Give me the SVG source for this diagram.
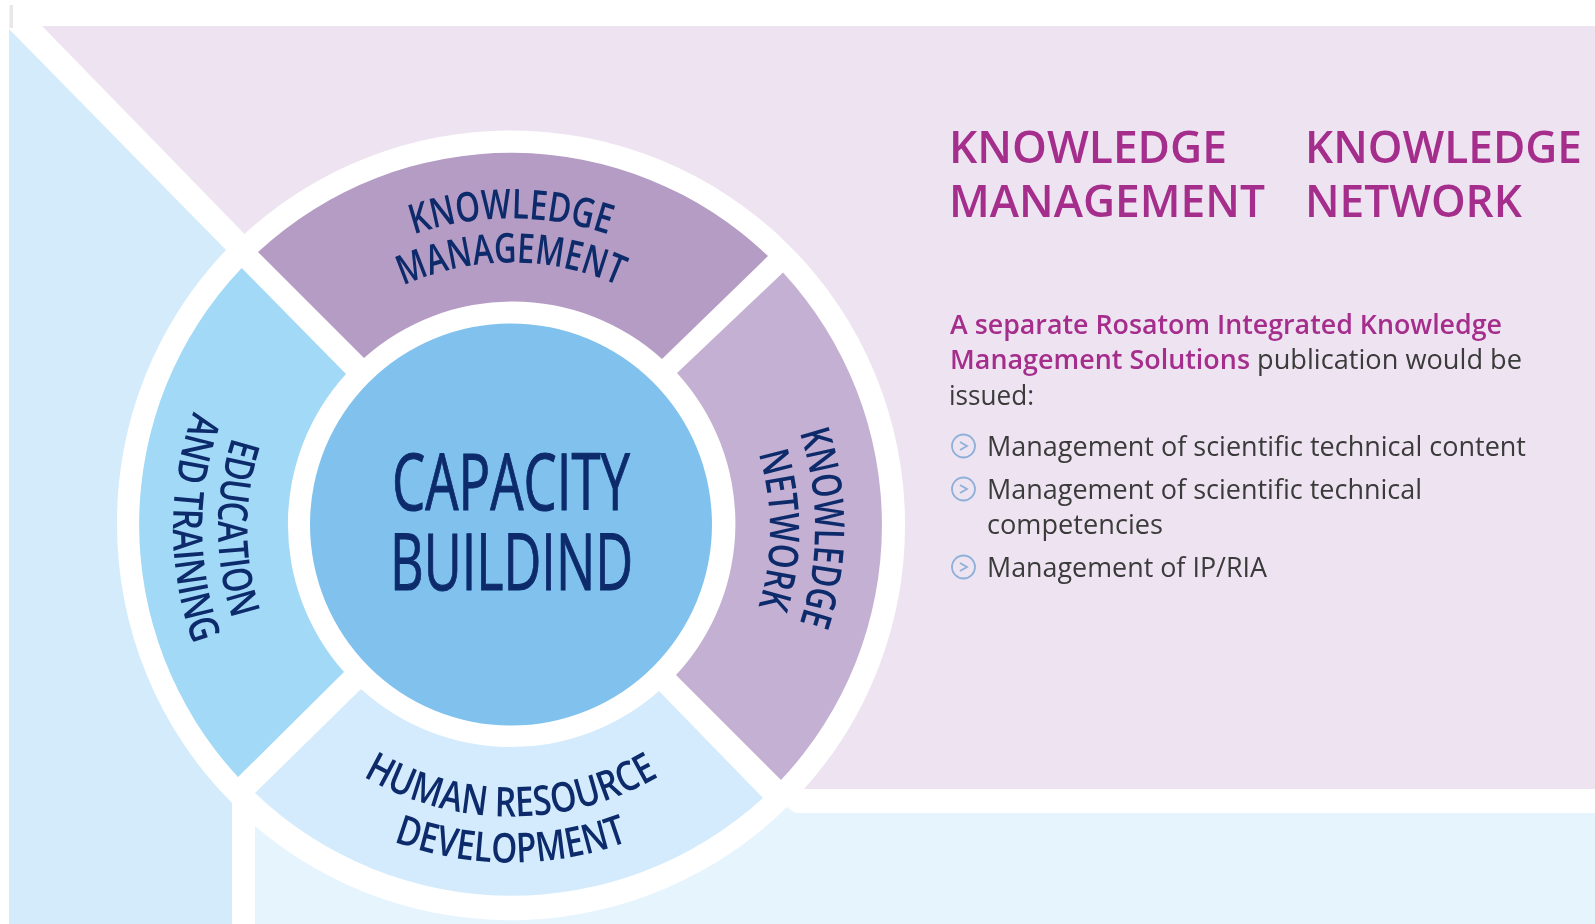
<svg xmlns="http://www.w3.org/2000/svg" width="1595" height="924" viewBox="0 0 1595 924">
<style>
.lab{font-family:"Open Sans","Noto Sans",sans-serif;font-weight:600;fill:#0b2a6b;font-size:41px;text-anchor:middle}
.big{font-family:"Open Sans","Noto Sans",sans-serif;font-weight:400;fill:#0b2a6b;stroke:#0b2a6b;stroke-width:1px;font-size:79px}
.hd{font-family:"Open Sans","Noto Sans",sans-serif;font-weight:600;fill:#a52e8d;font-size:46px}
.tx{font-family:"Open Sans","Noto Sans",sans-serif;font-weight:400;fill:#3a3a3a;font-size:27px}
.pk{font-family:"Open Sans","Noto Sans",sans-serif;font-weight:600;fill:#a52e8d;font-size:27px}
.ic{fill:none;stroke:#8fb0d8;stroke-width:1.8}
</style>
<defs>
<filter id="soft" x="-5%" y="-5%" width="110%" height="110%"><feGaussianBlur stdDeviation="0.6"/></filter>
<path id="pTop1" d="M205 524.500A306 306 0 0 1 817 524.500"/>
<path id="pTop2" d="M249 524.500A262 262 0 0 1 773 524.500"/>
<path id="pR1" d="M511 224A304 304 0 0 1 511 832"/>
<path id="pR2" d="M511 271A259 259 0 0 1 511 789"/>
<path id="pL1" d="M511 235A293 293 0 0 0 511 821"/>
<path id="pL2" d="M511 190A338 338 0 0 0 511 866"/>
<path id="pB1" d="M219 524.500A292 292 0 0 0 803 524.500"/>
<path id="pB2" d="M173 524.500A338 338 0 0 0 849 524.500"/>
</defs>
<rect width="1595" height="924" fill="#fff"/>
<rect x="9.500" y="5" width="3.500" height="23" fill="#e8e8e8"/>
<path id="bgBlue" d="M9 29L226 250A394 394 0 0 0 117 524.500A394 394 0 0 0 232 803V924H9Z" fill="#d3ebfb"/>
<path id="bgPurple" d="M42 26L244.500 234A394 394 0 0 1 511 130.500A394 394 0 0 1 905 524.500A394 394 0 0 1 804 789H1595V26Z" fill="#eee4f1"/>
<path id="bgLight" d="M255 826A394 394 0 0 0 787 807L795 813H1595V924H255Z" fill="#e6f4fe"/>
<g id="node-top">
<path d="M258 252A372 372 0 0 1 768 256L662 359A223 223 0 0 0 364 358Z" fill="#b59cc4"/>
<text class="lab" filter="url(#soft)"><textPath href="#pTop1" startOffset="50%" textLength="198" lengthAdjust="spacingAndGlyphs">KNOWLEDGE</textPath></text>
<text class="lab" filter="url(#soft)"><textPath href="#pTop2" startOffset="50%" textLength="222" lengthAdjust="spacingAndGlyphs">MANAGEMENT</textPath></text>
</g>
<g id="node-right">
<path d="M783 272.600A372 372 0 0 1 781 780L676 675A223 223 0 0 0 677 373Z" fill="#c4b0d3"/>
<text class="lab" filter="url(#soft)"><textPath href="#pR1" startOffset="50%" textLength="194" lengthAdjust="spacingAndGlyphs">KNOWLEDGE</textPath></text>
<text class="lab" filter="url(#soft)"><textPath href="#pR2" startOffset="50%" textLength="155" lengthAdjust="spacingAndGlyphs">NETWORK</textPath></text>
</g>
<g id="node-bottom">
<path d="M763 798A372 372 0 0 1 255 793L361 689A223 223 0 0 0 659 691Z" fill="#d3ebfc"/>
<text class="lab" filter="url(#soft)"><textPath href="#pB1" startOffset="50%" textLength="310" lengthAdjust="spacingAndGlyphs">HUMAN RESOURCE</textPath></text>
<text class="lab" filter="url(#soft)"><textPath href="#pB2" startOffset="50%" textLength="240" lengthAdjust="spacingAndGlyphs">DEVELOPMENT</textPath></text>
</g>
<g id="node-left">
<path d="M238 777A372 372 0 0 1 241.700 268L346 374A223 223 0 0 0 344 672Z" fill="#a1d9f7"/>
<text class="lab" filter="url(#soft)"><textPath href="#pL1" startOffset="50%" textLength="185" lengthAdjust="spacingAndGlyphs">EDUCATION</textPath></text>
<text class="lab" filter="url(#soft)"><textPath href="#pL2" startOffset="50%" textLength="238" lengthAdjust="spacingAndGlyphs">AND TRAINING</textPath></text>
</g>
<g id="node-centre">
<circle cx="511" cy="524.500" r="201" fill="#80c2ed"/>
<text class="big" filter="url(#soft)" x="392" y="510" textLength="238" lengthAdjust="spacingAndGlyphs">CAPACITY</text>
<text class="big" filter="url(#soft)" x="390" y="590" textLength="243" lengthAdjust="spacingAndGlyphs">BUILDIND</text>
</g>
<g id="text-panel" filter="url(#soft)">
<text class="hd" x="949" y="163" textLength="278" lengthAdjust="spacingAndGlyphs">KNOWLEDGE</text>
<text class="hd" x="949" y="217" textLength="316" lengthAdjust="spacingAndGlyphs">MANAGEMENT</text>
<text class="hd" x="1305" y="163" textLength="277" lengthAdjust="spacingAndGlyphs">KNOWLEDGE</text>
<text class="hd" x="1305" y="217" textLength="217" lengthAdjust="spacingAndGlyphs">NETWORK</text>
<text class="pk" x="950" y="334" textLength="552" lengthAdjust="spacingAndGlyphs">A separate Rosatom Integrated Knowledge</text>
<text class="pk" x="950" y="369" textLength="300" lengthAdjust="spacingAndGlyphs">Management Solutions</text>
<text class="tx" x="1257" y="369" textLength="265" lengthAdjust="spacingAndGlyphs">publication would be</text>
<text class="tx" x="949" y="405" textLength="85" lengthAdjust="spacingAndGlyphs">issued:</text>
<text class="tx" x="987" y="456" textLength="539" lengthAdjust="spacingAndGlyphs">Management of scientific technical content</text>
<text class="tx" x="987" y="499" textLength="435" lengthAdjust="spacingAndGlyphs">Management of scientific technical</text>
<text class="tx" x="987" y="534" textLength="176" lengthAdjust="spacingAndGlyphs">competencies</text>
<text class="tx" x="987" y="577" textLength="280" lengthAdjust="spacingAndGlyphs">Management of IP/RIA</text>
<circle class="ic" cx="963.500" cy="446" r="11.500"/><path class="ic" d="M960 442L967 446L960 450"/>
<circle class="ic" cx="963.500" cy="489" r="11.500"/><path class="ic" d="M960 485L967 489L960 493"/>
<circle class="ic" cx="963.500" cy="567" r="11.500"/><path class="ic" d="M960 563L967 567L960 571"/>
</g>
</svg>
